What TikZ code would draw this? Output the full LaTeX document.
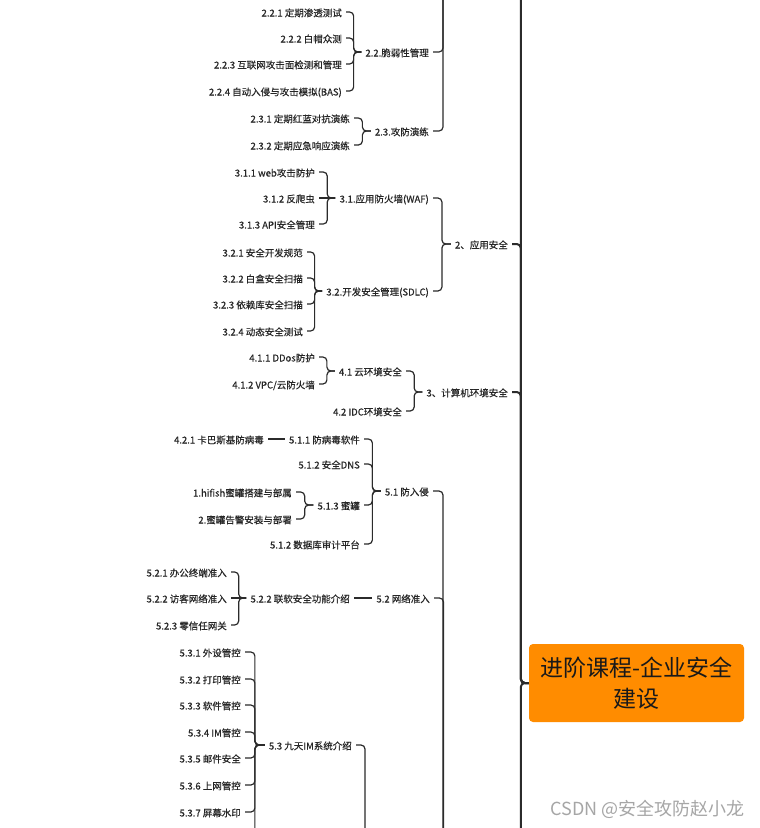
\documentclass[tikz,border=0pt]{standalone}
\usepackage{fontspec}
\setmainfont{Noto Sans CJK SC}
\newfontfamily\lblfont{Noto Sans CJK SC}[FakeBold=0.4]
\usetikzlibrary{calc}
\definecolor{txt}{HTML}{262626}
\definecolor{ln}{HTML}{2B2B2B}
\definecolor{rootfill}{HTML}{FF8C00}
\definecolor{wm}{HTML}{A6A6A6}
\newcommand\conn[2]{\draw[br] let \p1=(#1), \p2=(#2), \n1={(\x1+\x2)/2} in (\x1+4pt,\y1) -- (\n1,\y1) -- (\n1,\y2) -- (\x2-4pt,\y2);}
\newcommand\sconn[2]{\draw[br] ([xshift=4pt]#1.east) -- ([xshift=-4pt]#2.west);}
\newcommand\rconn[1]{\draw[mainline] let \p1=(#1), \p2=(root.west) in (\x1+4pt,\y1) -- (\x2-8pt,\y1) -- (\x2-8pt,\y2) -- (\x2,\y2);}
\begin{document}
\begin{tikzpicture}[x=1pt,y=-1pt,
  lbl/.style={anchor=east, inner sep=0pt, text=txt, text height=9.5pt, text depth=0.5pt, font=\lblfont\fontsize{9.5}{11}\selectfont},
  br/.style={draw=ln, line width=1.2pt, rounded corners=4pt},
  mainline/.style={draw=ln, line width=2pt, rounded corners=4pt},
  rootbox/.style={fill=rootfill, rounded corners=4pt, minimum width=215pt, minimum height=78pt, align=center, text=black!90, font=\fontsize{23}{31}\selectfont, inner sep=0pt}]
\clip (0,0) rectangle (760,828);
\fill[white] (0,0) rectangle (760,828);

% root
\node[rootbox] (root) at (636.5,683) {进阶课程-企业安全\\建设};

% 2.2 / 2.3
\node[lbl] (n221) at (342,12) {2.2.1 定期渗透测试};
\node[lbl] (n222) at (342,38) {2.2.2 白帽众测};
\node[lbl] (n223) at (342,64) {2.2.3 互联网攻击面检测和管理};
\node[lbl] (n224) at (342,91) {2.2.4 自动入侵与攻击模拟(BAS)};
\node[lbl] (n22) at (429,52) {2.2.脆弱性管理};
\node[lbl] (n231) at (350,118) {2.3.1 定期红蓝对抗演练};
\node[lbl] (n232) at (350,145) {2.3.2 定期应急响应演练};
\node[lbl] (n23) at (429,131) {2.3.攻防演练};

% 3.1 / 3.2 / 2
\node[lbl] (n311) at (315,172) {3.1.1 web攻击防护};
\node[lbl] (n312) at (315,198) {3.1.2 反爬虫};
\node[lbl] (n313) at (315,224) {3.1.3 API安全管理};
\node[lbl] (n31) at (429,198) {3.1.应用防火墙(WAF)};
\node[lbl] (n321) at (303,252) {3.2.1 安全开发规范};
\node[lbl] (n322) at (303,278) {3.2.2 白盒安全扫描};
\node[lbl] (n323) at (303,304) {3.2.3 依赖库安全扫描};
\node[lbl] (n324) at (303,331) {3.2.4 动态安全测试};
\node[lbl] (n32) at (429,291) {3.2.开发安全管理(SDLC)};
\node[lbl] (n2) at (508,244) {2、应用安全};

% 4.x / 3
\node[lbl] (n411) at (315,357) {4.1.1 DDos防护};
\node[lbl] (n412) at (315,384) {4.1.2 VPC/云防火墙};
\node[lbl] (n41) at (402,371) {4.1 云环境安全};
\node[lbl] (n42) at (402,411) {4.2 IDC环境安全};
\node[lbl] (n3) at (508,392) {3、计算机环境安全};

% 5.1
\node[lbl] (n421) at (264,439) {4.2.1 卡巴斯基防病毒};
\node[lbl] (n511) at (360,439) {5.1.1 防病毒软件};
\node[lbl] (n512) at (360,464) {5.1.2 安全DNS};
\node[lbl] (nh1) at (292,492) {1.hifish蜜罐搭建与部属};
\node[lbl] (nh2) at (292,519) {2.蜜罐告警安装与部署};
\node[lbl] (n513) at (360,505) {5.1.3 蜜罐};
\node[lbl] (n514) at (360,544) {5.1.2 数据库审计平台};
\node[lbl] (n51) at (429,491) {5.1 防入侵};

% 5.2
\node[lbl] (n521) at (227,572) {5.2.1 办公终端准入};
\node[lbl] (n522) at (227,598) {5.2.2 访客网络准入};
\node[lbl] (n523) at (227,625) {5.2.3 零信任网关};
\node[lbl] (n5220) at (350,598) {5.2.2 联软安全功能介绍};
\node[lbl] (n52) at (430,598) {5.2 网络准入};

% 5.3
\node[lbl] (n531) at (241,652) {5.3.1 外设管控};
\node[lbl] (n532) at (241,679) {5.3.2 打印管控};
\node[lbl] (n533) at (241,705) {5.3.3 软件管控};
\node[lbl] (n534) at (241,732) {5.3.4 IM管控};
\node[lbl] (n535) at (241,758) {5.3.5 邮件安全};
\node[lbl] (n536) at (241,785) {5.3.6 上网管控};
\node[lbl] (n537) at (241,812) {5.3.7 屏幕水印};
\node[lbl] (n53) at (352,745) {5.3 九天IM系统介绍};

% off-page ends
\coordinate (p2w) at (457,-60);
\coordinate (p2e) at (508,-60);
\coordinate (p5w) at (457,880);
\coordinate (p5e) at (508,880);
\coordinate (p53w) at (378,880);
\coordinate (n538) at (241,838);

% connectors
\conn{n221.east}{n22.west}
\conn{n222.east}{n22.west}
\conn{n223.east}{n22.west}
\conn{n224.east}{n22.west}
\conn{n231.east}{n23.west}
\conn{n232.east}{n23.west}
\conn{n22.east}{p2w}
\conn{n23.east}{p2w}

\conn{n311.east}{n31.west}
\sconn{n312}{n31}
\conn{n313.east}{n31.west}
\conn{n321.east}{n32.west}
\conn{n322.east}{n32.west}
\conn{n323.east}{n32.west}
\conn{n324.east}{n32.west}
\conn{n31.east}{n2.west}
\conn{n32.east}{n2.west}

\conn{n411.east}{n41.west}
\conn{n412.east}{n41.west}
\conn{n41.east}{n3.west}
\conn{n42.east}{n3.west}

\sconn{n421}{n511}
\conn{nh1.east}{n513.west}
\conn{nh2.east}{n513.west}
\conn{n511.east}{n51.west}
\conn{n512.east}{n51.west}
\conn{n513.east}{n51.west}
\conn{n514.east}{n51.west}

\conn{n521.east}{n5220.west}
\sconn{n522}{n5220}
\conn{n523.east}{n5220.west}
\sconn{n5220}{n52}

\conn{n51.east}{p5w}
\conn{n52.east}{p5w}

\conn{n531.east}{n53.west}
\conn{n532.east}{n53.west}
\conn{n533.east}{n53.west}
\conn{n534.east}{n53.west}
\conn{n535.east}{n53.west}
\conn{n536.east}{n53.west}
\conn{n537.east}{n53.west}
\conn{n538}{n53.west}
\conn{n53.east}{p53w}

\rconn{p2e}
\rconn{n2.east}
\rconn{n3.east}
\rconn{p5e}

% watermark
\node[anchor=east, inner sep=0pt, text=wm, font=\fontsize{18}{20}\selectfont] (wmk) at (745,809) {CSDN @安全攻防赵小龙};
\end{tikzpicture}
\end{document}
